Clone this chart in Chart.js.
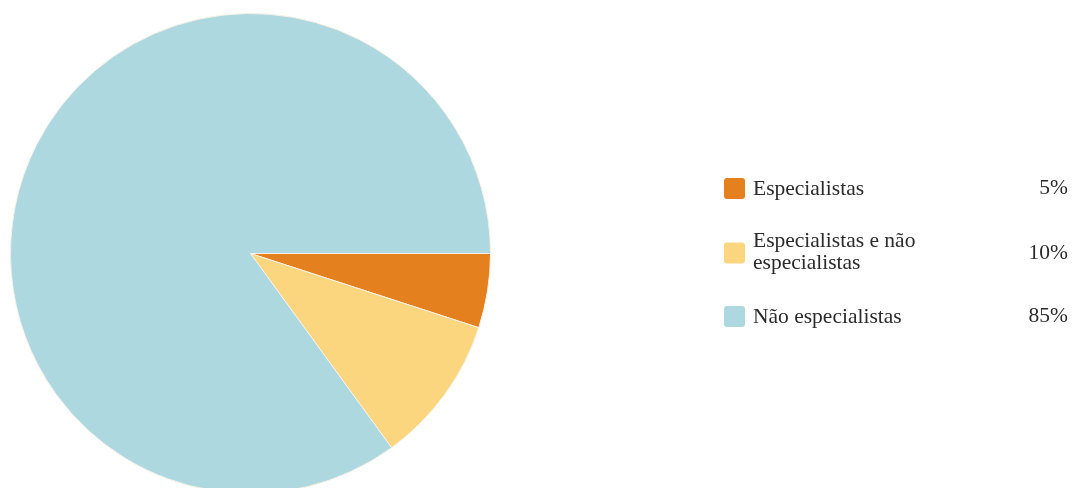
<!DOCTYPE html>
<html>
<head>
<meta charset="utf-8">
<script src="https://cdn.jsdelivr.net/npm/chart.js@4/dist/chart.umd.min.js"></script>
<style>
  html, body { margin: 0; padding: 0; background: #fff; }
  body { width: 1073px; height: 488px; overflow: hidden; position: relative; }
  #wrap { position: absolute; left: 0; top: 0; width: 1073px; height: 494px; }
</style>
</head>
<body>
<div id="wrap"><canvas id="chart"></canvas></div>
<script>
// Data
const categories = ['Especialistas', 'Especialistas e não especialistas', 'Não especialistas'];
const shares = [5, 10, 85];
const colors = ['#E5801F', '#FCD67F', '#ADD8E0'];

// Legend drawn on the canvas, on the right of the pie
const sideLegend = {
    id: 'sideLegend',
    afterDraw(chart) {
        const c = chart.ctx;
        const rowCenters = [188.5, 253, 316.5];
        const x = 724, box = 21, textX = 753, right = 1068;
        c.save();
        c.font = '21.5px "Liberation Serif", "Times New Roman", serif';
        c.fillStyle = '#2b2b2b';
        c.textBaseline = 'alphabetic';
        chart.data.labels.forEach((label, i) => {
            const cy = rowCenters[i];
            // wrap label to a max width
            const words = label.split(' ');
            const lines = [];
            let cur = '';
            words.forEach(w => {
                const t = cur ? cur + ' ' + w : w;
                if (c.measureText(t).width > 175 && cur) { lines.push(cur); cur = w; }
                else cur = t;
            });
            lines.push(cur);

            c.fillStyle = chart.data.datasets[0].backgroundColor[i];
            c.beginPath();
            c.roundRect(x, cy - box / 2, box, box, 3);
            c.fill();

            c.fillStyle = '#2b2b2b';
            c.textAlign = 'left';
            if (lines.length === 1) {
                c.fillText(lines[0], textX, cy + 6);
            } else {
                c.fillText(lines[0], textX, cy - 6);
                c.fillText(lines[1], textX, cy + 16);
            }
            c.textAlign = 'right';
            c.fillText(chart.data.datasets[0].data[i] + '%', right, cy + 5.5);
        });
        c.restore();
    }
};

const ctx = document.getElementById('chart').getContext('2d');
const chart = new Chart(ctx, {
    type: 'pie',
    data: {
        labels: categories,
        datasets: [{
            data: shares,
            backgroundColor: colors,
            borderColor: '#f7f0e4',
            borderWidth: 1
        }]
    },
    options: {
        responsive: true,
        maintainAspectRatio: false,
        animation: false,
        rotation: 90, // first slice starts at 3 o'clock
        layout: { padding: { left: 10, top: 13, right: 582, bottom: 0 } },
        plugins: {
            legend: { display: false },
            tooltip: { enabled: false }
        }
    },
    plugins: [sideLegend]
});
</script>
</body>
</html>
